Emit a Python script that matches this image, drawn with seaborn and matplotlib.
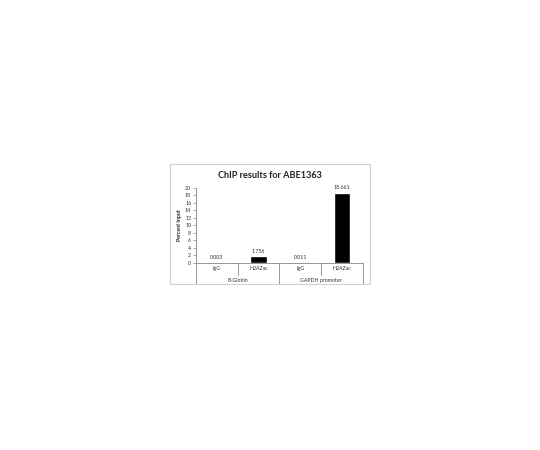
import matplotlib
matplotlib.use("Agg")
import matplotlib.pyplot as plt
import matplotlib.patches as mpatches
import seaborn as sns
import pandas as pd

# data
antibodies = ["IgG", "H2AZac", "IgG", "H2AZac"]
groups = ["B-Globin", "GAPDH promoter"]
percent_input = [0.003, 1.756, 0.011, 18.661]

df = pd.DataFrame({"pos": [0, 1, 2, 3], "ab": antibodies, "val": percent_input})

sns.set_style("white")
plt.rcParams["font.family"] = ["Lato", "DejaVu Sans"]

fig = plt.figure(figsize=(5.4, 4.5), dpi=100)
ax = fig.add_axes([0.363, 0.4156, 0.309, 0.1667])

sns.barplot(data=df, x="pos", y="val", color="black", width=0.4,
            saturation=1, ax=ax, order=[0, 1, 2, 3])
ax.bar_label(ax.containers[0], fmt="{:.3f}", fontsize=3.8, padding=2, color="#333333")

ax.set_ylim(0, 20)
ax.set_yticks(range(0, 21, 2))
ax.tick_params(axis="y", labelsize=3.8, length=2, width=0.5, color="#868686",
               pad=1.5, labelcolor="#333333", left=True)
ax.set_xlim(-0.5, 3.5)
ax.set_xticks([])
ax.set_xlabel("")
ax.set_ylabel("Percent Input", fontsize=3.8, fontweight="bold", labelpad=2)

for side in ["top", "right"]:
    ax.spines[side].set_visible(False)
for side in ["left", "bottom"]:
    ax.spines[side].set_color("#868686")
    ax.spines[side].set_linewidth(0.6)

# category axis with group brackets
trans = ax.get_xaxis_transform()
n = len(antibodies)
for i, lab in enumerate(antibodies):
    ax.text(i, -0.08, lab, transform=trans, ha="center", va="center",
            fontsize=3.8, color="#333333")
for k in range(n + 1):
    edge = k - 0.5
    low = -0.28 if k % 2 == 0 else -0.16
    ax.plot([edge, edge], [0, low], transform=trans, color="#868686", lw=0.6,
            clip_on=False)
for g, name in enumerate(groups):
    ax.text(2 * g + 0.5, -0.23, name, transform=trans, ha="center", va="center",
            fontsize=3.8, color="#333333")

fig.text(0.5, 0.611, "ChIP results for ABE1363", ha="center", va="center",
         fontsize=6.6, fontweight="bold", color="#222222")

frame = mpatches.Rectangle((0.315, 0.369), 0.37, 0.267, transform=fig.transFigure,
                           fill=False, edgecolor="#d0d0d0", lw=0.8)
fig.patches.append(frame)

fig.savefig("out.png", dpi=100)
